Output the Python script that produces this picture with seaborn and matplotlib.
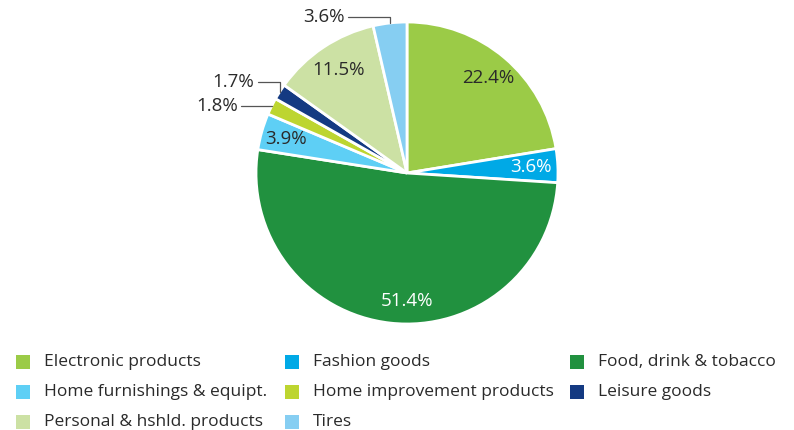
import numpy as np
import matplotlib
matplotlib.use("Agg")
import matplotlib.pyplot as plt
from matplotlib.patches import Rectangle
import seaborn as sns

categories = ["Electronic products", "Fashion goods", "Food, drink & tobacco",
              "Home furnishings & equipt.", "Home improvement products", "Leisure goods",
              "Personal & hshld. products", "Tires"]
shares = [22.4, 3.6, 51.4, 3.9, 1.8, 1.7, 11.5, 3.6]
label_texts = ["22.4%", "3.6%", "51.4%", "3.9%", "1.8%", "1.7%", "11.5%", "3.6%"]
colors = ["#9BCB47", "#00A9E6", "#21913F", "#5ECFF5", "#BDD530", "#143A82", "#CCE1A4", "#86CEF2"]

sns.set_theme(style="white")
plt.rcParams['font.family'] = ['Open Sans', 'DejaVu Sans']
palette = sns.color_palette(colors)

TXT = "#2a2a2a"
fig = plt.figure(figsize=(7.94, 4.30), dpi=100)
W, H = 794, 430
cx, cy, R = 407, 173, 151
ax = fig.add_axes([(cx - R) / W, (H - cy - R) / H, 2 * R / W, 2 * R / H])
wedges, _ = ax.pie(shares, colors=palette, startangle=90, counterclock=False,
                   wedgeprops=dict(edgecolor="white", linewidth=2.0))
ax.set_xlim(-1, 1)
ax.set_ylim(-1, 1)
ax.axis("off")

inside_col = {0: TXT, 1: "white", 2: "white", 3: TXT, 6: TXT}
inside_r = {0: 0.83, 1: 0.82, 2: 0.85, 3: 0.83, 6: 0.82}
for i, w in enumerate(wedges):
    mid = np.deg2rad((w.theta1 + w.theta2) / 2)
    if i in inside_col:
        ang = mid if i != 2 else np.deg2rad(-90)
        r = inside_r[i]
        ax.text(r * np.cos(ang), r * np.sin(ang), label_texts[i], ha="center", va="center",
                fontsize=13.5, color=inside_col[i])

# outside labels with leader lines: (label y in axis units, text right end x)
outside = {7: (1.035, -0.41), 5: (0.60, -1.01), 4: (None, -1.12)}
for i, (ly, tx) in outside.items():
    w = wedges[i]
    mid = np.deg2rad((w.theta1 + w.theta2) / 2)
    ex, ey = np.cos(mid), np.sin(mid)
    if ly is None:
        ly = ey
    xs = [tx + 0.02, ex, ex]
    ys = [ly, ly, ey]
    ax.plot(xs, ys, color="#555555", lw=0.9, clip_on=False)
    ax.text(tx, ly, label_texts[i], ha="right", va="center", fontsize=13.5, color=TXT)

# legend (row-major, 3 columns)
col_x = [16, 285, 570]
row_y = [362, 392, 422]
sq = 14
for i, name in enumerate(categories):
    c, r = i % 3, i // 3
    x0, y0 = col_x[c], row_y[r]
    fig.patches.append(Rectangle((x0 / W, (H - y0 - sq / 2) / H), sq / W, sq / H,
                                 transform=fig.transFigure, facecolor=palette[i],
                                 edgecolor="none"))
    fig.text((x0 + 28) / W, (H - y0) / H, name, ha="left", va="center",
             fontsize=12.5, color=TXT)

fig.savefig("out.png", dpi=100)
